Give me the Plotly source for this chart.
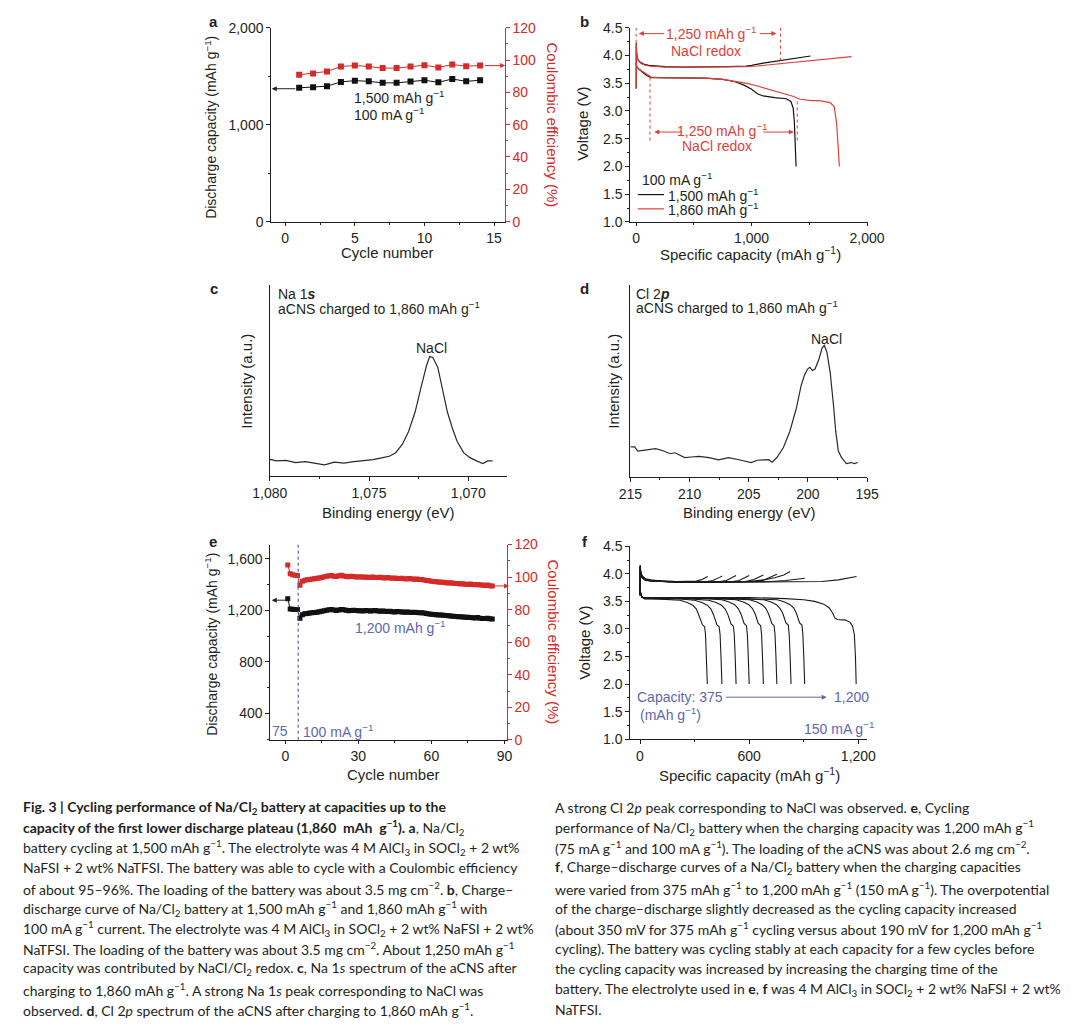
import plotly.graph_objects as go

# ---------------- data ----------------
# panel a
a_cycles = list(range(1, 15))
a_capacity = [1380, 1386, 1397, 1441, 1454, 1447, 1431, 1431, 1444, 1458, 1437, 1471, 1447, 1458]
a_ce = [90.9, 91.7, 92.9, 96.0, 96.6, 96.0, 95.0, 95.0, 96.0, 96.8, 95.4, 97.2, 96.2, 96.6]

# panel b
b_chg_1500_cap = [0, 1, 4, 10, 20, 40, 70, 110, 160, 250, 400, 600, 800, 950, 1000, 1100, 1245, 1400, 1510]
b_chg_1500_v = [3.40, 4.23, 4.05, 3.96, 3.91, 3.87, 3.84, 3.82, 3.81, 3.80, 3.79, 3.79, 3.80, 3.81, 3.82, 3.86, 3.91, 3.95, 3.99]
b_dis_1500_cap = [0, 5, 20, 50, 90, 130, 200, 400, 600, 750, 850, 930, 1000, 1050, 1100, 1200, 1300, 1340, 1360, 1370, 1378, 1385]
b_dis_1500_v = [3.86, 3.80, 3.76, 3.71, 3.64, 3.60, 3.60, 3.60, 3.59, 3.57, 3.53, 3.47, 3.39, 3.31, 3.27, 3.24, 3.22, 3.17, 3.05, 2.80, 2.40, 2.00]
b_chg_1860_cap = [0, 1, 4, 10, 20, 40, 70, 110, 160, 250, 400, 600, 800, 950, 1050, 1150, 1250, 1350, 1450, 1550, 1650, 1750, 1865]
b_chg_1860_v = [3.42, 4.21, 4.04, 3.95, 3.90, 3.86, 3.83, 3.81, 3.80, 3.79, 3.79, 3.79, 3.79, 3.80, 3.81, 3.83, 3.85, 3.87, 3.90, 3.92, 3.94, 3.96, 3.98]
b_dis_1860_cap = [0, 5, 20, 50, 90, 130, 200, 400, 600, 750, 850, 950, 1050, 1150, 1250, 1350, 1420, 1500, 1600, 1680, 1715, 1735, 1748, 1760]
b_dis_1860_v = [3.84, 3.79, 3.76, 3.72, 3.66, 3.61, 3.60, 3.60, 3.59, 3.57, 3.54, 3.50, 3.45, 3.39, 3.34, 3.27, 3.21, 3.19, 3.18, 3.15, 3.08, 2.80, 2.40, 2.00]
b_redox_marks = [0, 1250, 120, 1395]

# panel c (Na 1s)
c_be = [1080.0, 1079.67, 1079.19, 1078.70, 1078.21, 1077.72, 1077.24, 1076.75, 1076.26, 1075.77, 1075.28,
        1074.80, 1074.31, 1073.98, 1073.66, 1073.33, 1073.01, 1072.68, 1072.36, 1072.11, 1071.95, 1071.79,
        1071.54, 1071.30, 1071.06, 1070.81, 1070.57, 1070.24, 1069.92, 1069.59, 1069.27, 1069.02, 1068.78]
c_int = [0.089, 0.081, 0.084, 0.072, 0.077, 0.067, 0.060, 0.074, 0.069, 0.077, 0.081,
         0.088, 0.098, 0.105, 0.124, 0.167, 0.235, 0.338, 0.476, 0.579, 0.627, 0.622,
         0.570, 0.459, 0.338, 0.253, 0.184, 0.124, 0.098, 0.081, 0.067, 0.081, 0.081]

# panel d (Cl 2p)
d_be = [215.0, 214.64, 214.37, 213.83, 212.87, 212.19, 211.64, 211.23, 210.82, 210.41, 209.86, 209.18,
        208.36, 207.54, 206.72, 206.17, 205.63, 204.81, 204.26, 203.72, 203.31, 203.03, 202.62, 202.08,
        201.53, 200.98, 200.57, 200.30, 200.03, 199.84, 199.62, 199.40, 199.07, 198.80, 198.61, 198.39,
        198.12, 197.84, 197.65, 197.43, 197.16, 196.75, 196.34, 196.07, 195.79]
d_int = [0.159, 0.159, 0.137, 0.142, 0.149, 0.137, 0.123, 0.128, 0.115, 0.103, 0.106, 0.109,
         0.103, 0.091, 0.103, 0.094, 0.089, 0.077, 0.089, 0.091, 0.092, 0.079, 0.103, 0.154,
         0.239, 0.359, 0.479, 0.530, 0.564, 0.573, 0.556, 0.564, 0.615, 0.675, 0.687, 0.650,
         0.547, 0.376, 0.239, 0.137, 0.103, 0.072, 0.077, 0.072, 0.077]

# panel e
e_cycles = list(range(1, 86))
e_capacity = [1289, 1210, 1208, 1206, 1205, 1138, 1165, 1172, 1175, 1178, 1180, 1183, 1185, 1188, 1192,
              1196, 1199, 1203, 1205, 1202, 1198, 1201, 1206, 1203, 1199, 1196, 1198, 1200, 1197, 1195,
              1196, 1194, 1197, 1195, 1193, 1196, 1198, 1194, 1192, 1193, 1191, 1190, 1192, 1189, 1187,
              1190, 1188, 1186, 1185, 1187, 1184, 1183, 1185, 1182, 1180, 1181, 1178, 1174, 1170, 1168,
              1166, 1165, 1162, 1163, 1160, 1158, 1157, 1155, 1154, 1152, 1150, 1149, 1147, 1145, 1146,
              1143, 1142, 1140, 1143, 1138, 1136, 1135, 1137, 1133, 1131]
e_ce = [107.5, 102.0, 101.5, 101.2, 101.0, 95.0, 97.5, 98.0, 98.3, 98.6, 98.8, 99.0, 99.3, 99.5, 99.8,
        100.2, 100.5, 100.8, 101.0, 100.6, 100.3, 100.8, 101.2, 100.7, 100.4, 100.2, 100.5, 100.3, 100.1, 100.0,
        100.2, 99.9, 100.1, 99.8, 99.9, 100.1, 99.8, 99.7, 99.9, 99.6, 99.5, 99.7, 99.4, 99.3, 99.5,
        99.2, 99.1, 99.3, 99.0, 98.9, 99.1, 98.8, 98.7, 98.9, 98.6, 98.5, 98.2, 97.9, 97.7, 97.5,
        97.3, 97.2, 97.0, 96.8, 96.9, 96.6, 96.4, 96.5, 96.2, 96.1, 96.0, 95.8, 95.9, 95.6, 95.5,
        95.7, 95.4, 95.3, 95.5, 95.2, 95.1, 94.9, 95.1, 94.7, 94.6]
e_rate_switch_cycle = 5.3

# panel f: charge curves (375 -> 1,200 mAh/g)
f_charge_cap = [
    [0, 1, 4, 12, 30, 60, 120, 200, 280, 310, 335, 355, 372],
    [0, 1, 4, 12, 30, 60, 120, 200, 300, 370, 400, 425, 440, 451],
    [0, 1, 4, 12, 30, 60, 120, 250, 380, 440, 475, 505, 528],
    [0, 1, 4, 12, 30, 60, 120, 250, 400, 510, 545, 575, 600],
    [0, 1, 4, 12, 30, 60, 120, 250, 400, 580, 620, 652, 678],
    [0, 1, 4, 12, 30, 60, 120, 250, 400, 550, 650, 690, 725, 752],
    [0, 1, 4, 12, 30, 60, 120, 250, 400, 500, 600, 680, 740, 790, 825],
    [0, 1, 4, 12, 30, 60, 120, 250, 400, 600, 720, 800, 860, 905],
    [0, 1, 4, 12, 30, 60, 120, 250, 400, 600, 800, 900, 1000, 1090, 1150, 1190],
]
f_charge_v = [
    [3.62, 4.16, 4.03, 3.96, 3.91, 3.89, 3.87, 3.86, 3.86, 3.87, 3.89, 3.92, 3.95],
    [3.62, 4.15, 4.02, 3.95, 3.90, 3.88, 3.87, 3.86, 3.86, 3.86, 3.88, 3.91, 3.94, 3.96],
    [3.62, 4.14, 4.02, 3.95, 3.90, 3.88, 3.86, 3.85, 3.85, 3.86, 3.88, 3.93, 3.97],
    [3.62, 4.13, 4.01, 3.95, 3.90, 3.88, 3.86, 3.85, 3.85, 3.86, 3.88, 3.93, 3.97],
    [3.62, 4.13, 4.01, 3.94, 3.90, 3.88, 3.86, 3.85, 3.85, 3.86, 3.89, 3.94, 3.98],
    [3.61, 4.12, 4.00, 3.94, 3.90, 3.88, 3.86, 3.85, 3.85, 3.85, 3.86, 3.90, 3.95, 3.99],
    [3.61, 4.12, 4.00, 3.94, 3.89, 3.87, 3.86, 3.85, 3.85, 3.85, 3.86, 3.89, 3.93, 3.98, 4.04],
    [3.61, 4.11, 3.99, 3.93, 3.89, 3.87, 3.86, 3.85, 3.85, 3.85, 3.86, 3.88, 3.90, 3.92],
    [3.60, 4.10, 3.98, 3.92, 3.88, 3.87, 3.86, 3.85, 3.85, 3.85, 3.85, 3.855, 3.86, 3.89, 3.93, 3.95],
]
# panel f: discharge curves
f_discharge_cap = [
    [0, 3, 10, 25, 60, 150, 220, 260, 290, 310, 325, 335, 342, 355, 360, 365, 370],
    [0, 3, 10, 25, 60, 200, 300, 340, 370, 390, 405, 415, 422, 435, 440, 445, 450],
    [0, 3, 10, 25, 60, 250, 378, 418, 448, 468, 483, 493, 500, 513, 518, 523, 528],
    [0, 3, 10, 25, 60, 300, 450, 490, 520, 540, 555, 565, 572, 585, 590, 595, 600],
    [0, 3, 10, 25, 60, 350, 528, 568, 598, 618, 633, 643, 650, 663, 668, 673, 678],
    [0, 3, 10, 25, 60, 400, 602, 642, 672, 692, 707, 717, 724, 737, 742, 747, 752],
    [0, 3, 10, 25, 60, 450, 680, 720, 750, 770, 785, 795, 802, 815, 820, 825, 830],
    [0, 3, 10, 25, 60, 500, 755, 795, 825, 845, 860, 870, 877, 890, 895, 900, 905],
    [0, 3, 10, 25, 60, 300, 600, 800, 900, 960, 1010, 1040, 1060, 1070, 1085, 1130, 1155, 1168, 1178, 1184, 1188],
]
f_discharge_v = [
    [3.78, 3.66, 3.58, 3.55, 3.55, 3.54, 3.52, 3.48, 3.43, 3.36, 3.25, 3.15, 3.08, 3.04, 2.90, 2.50, 2.00],
    [3.77, 3.65, 3.58, 3.55, 3.55, 3.55, 3.52, 3.48, 3.43, 3.36, 3.25, 3.15, 3.08, 3.04, 2.90, 2.50, 2.00],
    [3.77, 3.65, 3.58, 3.55, 3.55, 3.55, 3.52, 3.48, 3.43, 3.36, 3.26, 3.16, 3.09, 3.05, 2.90, 2.50, 2.00],
    [3.77, 3.65, 3.58, 3.56, 3.56, 3.56, 3.53, 3.49, 3.44, 3.37, 3.27, 3.17, 3.10, 3.06, 2.90, 2.50, 2.00],
    [3.76, 3.65, 3.58, 3.56, 3.56, 3.56, 3.53, 3.49, 3.44, 3.37, 3.27, 3.17, 3.10, 3.06, 2.90, 2.50, 2.00],
    [3.76, 3.64, 3.58, 3.56, 3.56, 3.56, 3.53, 3.49, 3.44, 3.37, 3.27, 3.17, 3.10, 3.06, 2.90, 2.50, 2.00],
    [3.76, 3.64, 3.58, 3.56, 3.56, 3.56, 3.53, 3.49, 3.44, 3.37, 3.28, 3.18, 3.11, 3.07, 2.90, 2.50, 2.00],
    [3.76, 3.64, 3.58, 3.56, 3.56, 3.56, 3.53, 3.49, 3.44, 3.38, 3.28, 3.18, 3.11, 3.07, 2.90, 2.50, 2.00],
    [3.76, 3.64, 3.58, 3.56, 3.56, 3.57, 3.57, 3.55, 3.53, 3.50, 3.45, 3.38, 3.28, 3.20, 3.17, 3.16, 3.12, 3.05, 2.90, 2.50, 2.00],
]

caption_left = [
    "<b>Fig. 3 | Cycling performance of Na/Cl<sub>2</sub> battery at capacities up to the</b>",
    "<b>capacity of the first lower discharge plateau (1,860  mAh  g<sup>−1</sup>). a</b>, Na/Cl<sub>2</sub>",
    "battery cycling at 1,500 mAh g<sup>−1</sup>. The electrolyte was 4 M AlCl<sub>3</sub> in SOCl<sub>2</sub> + 2 wt%",
    "NaFSI + 2 wt% NaTFSI. The battery was able to cycle with a Coulombic efficiency",
    "of about 95–96%. The loading of the battery was about 3.5 mg cm<sup>−2</sup>. <b>b</b>, Charge–",
    "discharge curve of Na/Cl<sub>2</sub> battery at 1,500 mAh g<sup>−1</sup> and 1,860 mAh g<sup>−1</sup> with",
    "100 mA g<sup>−1</sup> current. The electrolyte was 4 M AlCl<sub>3</sub> in SOCl<sub>2</sub> + 2 wt% NaFSI + 2 wt%",
    "NaTFSI. The loading of the battery was about 3.5 mg cm<sup>−2</sup>. About 1,250 mAh g<sup>−1</sup>",
    "capacity was contributed by NaCl/Cl<sub>2</sub> redox. <b>c</b>, Na 1<i>s</i> spectrum of the aCNS after",
    "charging to 1,860 mAh g<sup>−1</sup>. A strong Na 1<i>s</i> peak corresponding to NaCl was",
    "observed. <b>d</b>, Cl 2<i>p</i> spectrum of the aCNS after charging to 1,860 mAh g<sup>−1</sup>.",
]
caption_right = [
    "A strong Cl 2<i>p</i> peak corresponding to NaCl was observed. <b>e</b>, Cycling",
    "performance of Na/Cl<sub>2</sub> battery when the charging capacity was 1,200 mAh g<sup>−1</sup>",
    "(75 mA g<sup>−1</sup> and 100 mA g<sup>−1</sup>). The loading of the aCNS was about 2.6 mg cm<sup>−2</sup>.",
    "<b>f</b>, Charge–discharge curves of a Na/Cl<sub>2</sub> battery when the charging capacities",
    "were varied from 375 mAh g<sup>−1</sup> to 1,200 mAh g<sup>−1</sup> (150 mA g<sup>−1</sup>). The overpotential",
    "of the charge–discharge slightly decreased as the cycling capacity increased",
    "(about 350 mV for 375 mAh g<sup>−1</sup> cycling versus about 190 mV for 1,200 mAh g<sup>−1</sup>",
    "cycling). The battery was cycling stably at each capacity for a few cycles before",
    "the cycling capacity was increased by increasing the charging time of the",
    "battery. The electrolyte used in <b>e</b>, <b>f</b> was 4 M AlCl<sub>3</sub> in SOCl<sub>2</sub> + 2 wt% NaFSI + 2 wt%",
    "NaTFSI.",
]

# ---------------- styling helpers ----------------
W, H = 1080, 1035


def fx(px):
    return px / W


def fy(py):
    return 1 - py / H


INK = '#231f20'
RED = '#d52a27'
RED_TXT = '#dc4139'
BLUE = '#6066b0'
FONT = 'Liberation Sans, Arial, sans-serif'
CAP_FONT = 'Lato, sans-serif'
FS = 14
FT = 15

fig = go.Figure()

# panel a
fig.add_trace(go.Scatter(x=a_cycles, y=a_capacity, mode='lines+markers', xaxis='x', yaxis='y',
                         line=dict(color='#111111', width=1),
                         marker=dict(symbol='square', size=6, color='#111111')))
fig.add_trace(go.Scatter(x=a_cycles, y=a_ce, mode='lines+markers', xaxis='x', yaxis='y7',
                         line=dict(color=RED, width=1),
                         marker=dict(symbol='square', size=6, color=RED)))
# panel b
fig.add_trace(go.Scatter(x=b_chg_1500_cap, y=b_chg_1500_v, mode='lines', xaxis='x2', yaxis='y2',
                         line=dict(color='#111111', width=1.2)))
fig.add_trace(go.Scatter(x=b_dis_1500_cap, y=b_dis_1500_v, mode='lines', xaxis='x2', yaxis='y2',
                         line=dict(color='#111111', width=1.2)))
fig.add_trace(go.Scatter(x=b_chg_1860_cap, y=b_chg_1860_v, mode='lines', xaxis='x2', yaxis='y2',
                         line=dict(color=RED_TXT, width=1.2)))
fig.add_trace(go.Scatter(x=b_dis_1860_cap, y=b_dis_1860_v, mode='lines', xaxis='x2', yaxis='y2',
                         line=dict(color=RED_TXT, width=1.2)))
# panel c, d
fig.add_trace(go.Scatter(x=c_be, y=c_int, mode='lines', xaxis='x3', yaxis='y3',
                         line=dict(color='#2a2a2a', width=1.2)))
fig.add_trace(go.Scatter(x=d_be, y=d_int, mode='lines', xaxis='x4', yaxis='y4',
                         line=dict(color='#2a2a2a', width=1.2)))
# panel e
fig.add_trace(go.Scatter(x=e_cycles, y=e_capacity, mode='lines+markers', xaxis='x5', yaxis='y5',
                         line=dict(color='#111111', width=1),
                         marker=dict(symbol='square', size=5, color='#111111')))
fig.add_trace(go.Scatter(x=e_cycles, y=e_ce, mode='lines+markers', xaxis='x5', yaxis='y8',
                         line=dict(color=RED, width=1),
                         marker=dict(symbol='square', size=5, color=RED)))
# panel f
for cx, cv in zip(f_charge_cap, f_charge_v):
    fig.add_trace(go.Scatter(x=cx, y=cv, mode='lines', xaxis='x6', yaxis='y6',
                             line=dict(color='#1a1a1a', width=1.1)))
for cx, cv in zip(f_discharge_cap, f_discharge_v):
    fig.add_trace(go.Scatter(x=cx, y=cv, mode='lines', xaxis='x6', yaxis='y6',
                             line=dict(color='#1a1a1a', width=1.1)))


def ax(color=INK, minor=None, **kw):
    d = dict(showline=True, linecolor=color, linewidth=1, ticks='outside', ticklen=3.5, tickwidth=1,
             tickcolor=color, showgrid=False, zeroline=False, fixedrange=True,
             tickfont=dict(family=FONT, size=FS, color=color))
    if minor is not None:
        d['minor'] = dict(dtick=minor, ticks='outside', ticklen=2, tickcolor=color, showgrid=False)
    d.update(kw)
    return d


layout = dict(
    width=W, height=H, autosize=False, showlegend=False,
    margin=dict(l=0, r=0, t=0, b=0),
    paper_bgcolor='white', plot_bgcolor='rgba(0,0,0,0)',
    # a
    xaxis=ax(domain=[fx(261), fx(503)], range=[-1.04, 15.8], dtick=5, tick0=0, minor=2.5, anchor='y'),
    yaxis=ax(domain=[fy(217), fy(20)], range=[0, 2000], dtick=1000, tickformat=',d', minor=500, anchor='x'),
    yaxis7=ax(color=RED, overlaying='y', side='right', anchor='x', range=[0, 120], dtick=20, minor=10),
    # b
    xaxis2=ax(domain=[fx(631.7), fx(878)], range=[-55, 2011], dtick=1000, tick0=0, tickformat=',d',
              minor=500, anchor='y2'),
    yaxis2=ax(domain=[fy(217.3), fy(20)], range=[1, 4.5], dtick=0.5, tick0=0, tickformat='.1f',
              minor=0.25, anchor='x2'),
    # c
    xaxis3=ax(domain=[fx(260), fx(505)], range=[1080, 1068.05], dtick=5, tick0=0, tickformat=',d',
              minor=2.5, anchor='y3'),
    yaxis3=ax(domain=[fy(475.7), fy(281.7)], range=[0, 1], ticks='', showticklabels=False, anchor='x3'),
    # d
    xaxis4=ax(domain=[fx(632.3), fx(876.7)], range=[215, 195], dtick=5, tick0=0, minor=2.5, anchor='y4'),
    yaxis4=ax(domain=[fy(476.7), fy(281.7)], range=[0, 1], ticks='', showticklabels=False, anchor='x4'),
    # e
    xaxis5=ax(domain=[fx(260), fx(505)], range=[-6.37, 91.1], dtick=30, tick0=0, minor=15, anchor='y5'),
    yaxis5=ax(domain=[fy(743.3), fy(545)], range=[195, 1709], dtick=400, tick0=0, tickformat=',d',
              minor=200, anchor='x5'),
    yaxis8=ax(color=RED, overlaying='y5', side='right', anchor='x5', range=[0, 120], dtick=20, minor=10),
    # f
    xaxis6=ax(domain=[fx(631.7), fx(876.7)], range=[-56, 1248], dtick=600, tick0=0, tickformat=',d',
              minor=300, anchor='y6'),
    yaxis6=ax(domain=[fy(742.7), fy(546.7)], range=[1, 4.5], dtick=0.5, tick0=0, tickformat='.1f',
              minor=0.25, anchor='x6'),
)
fig.update_layout(**layout)

ann = []


def text(px, py, s, size=FS, color=INK, xanchor='center', angle=0, family=FONT, yanchor='middle'):
    ann.append(dict(x=fx(px), y=fy(py), xref='paper', yref='paper', text=s, showarrow=False,
                    xanchor=xanchor, yanchor=yanchor, textangle=angle,
                    font=dict(family=family, size=size, color=color)))


def arrow(hx, hy, tx, ty, color=INK, width=1):
    ann.append(dict(x=fx(hx), y=fy(hy), xref='paper', yref='paper', text='', showarrow=True,
                    ax=tx - hx, ay=ty - hy, arrowhead=2, arrowsize=1, arrowwidth=width,
                    arrowcolor=color, standoff=0, startstandoff=0))


SUP = '<sup>−1</sup>'
# panel letters
for lab, px, py in [('a', 202, 14), ('b', 585, 14), ('c', 202, 285), ('d', 585, 285),
                    ('e', 201, 542), ('f', 585, 542)]:
    text(px, py, '<b>' + lab + '</b>', size=15)

# axis titles
text(199, 121, 'Discharge capacity (mAh g' + SUP + ')', size=FS, angle=-90)
text(552, 119, 'Coulombic efficiency (%)', size=FT, angle=90, color=RED)
text(382, 248, 'Cycle number', size=FT)
text(583, 118, 'Voltage (V)', size=FT, angle=-90)
text(756, 249, 'Specific capacity (mAh g' + SUP + ')', size=FT)
text(236, 379, 'Intensity (a.u.)', size=FT, angle=-90)
text(383, 512, 'Binding energy (eV)', size=FT)
text(615, 379, 'Intensity (a.u.)', size=FT, angle=-90)
text(755, 512, 'Binding energy (eV)', size=FT)
text(199, 646, 'Discharge capacity (mAh g' + SUP + ')', size=FS, angle=-90)
text(553, 644, 'Coulombic efficiency (%)', size=FT, angle=90, color=RED)
text(388, 779, 'Cycle number', size=FT)
text(584, 645, 'Voltage (V)', size=FT, angle=-90)
text(755, 779, 'Specific capacity (mAh g' + SUP + ')', size=FT)

# panel a notes
text(345, 90, '1,500 mAh g' + SUP, xanchor='left')
text(345, 108, '100 mA g' + SUP, xanchor='left')
arrow(262, 82, 287, 82)
arrow(503, 58.5, 481, 58.5, color=RED)

# panel b notes
text(716, 25, '1,250 mAh g' + SUP, color=RED_TXT)
text(710, 43.5, 'NaCl redox', color=RED_TXT)
arrow(641, 26, 668, 26, color=RED_TXT)
arrow(783, 26, 765, 26, color=RED_TXT)
text(727, 124, '1,250 mAh g' + SUP, color=RED_TXT)
text(722, 140, 'NaCl redox', color=RED_TXT)
arrow(657, 126, 686, 126, color=RED_TXT)
arrow(801, 126, 769, 126, color=RED_TXT)
text(642, 173.5, '100 mA g' + SUP, xanchor='left')
text(669, 189.5, '1,500 mAh g' + SUP, xanchor='left')
text(669, 204, '1,860 mAh g' + SUP, xanchor='left')

# panel c / d notes
text(266, 290, 'Na 1<b><i>s</i></b>', xanchor='left')
text(266, 305, 'aCNS charged to 1,860 mAh g' + SUP, xanchor='left')
text(427, 345, 'NaCl')
text(636, 290, 'Cl 2<b><i>p</i></b>', xanchor='left')
text(636, 304, 'aCNS charged to 1,860 mAh g' + SUP, xanchor='left')
text(835, 336, 'NaCl')

# panel e notes
text(395, 629, '1,200 mAh g' + SUP, color=BLUE)
text(271, 734, '75', color=BLUE)
text(292, 734, '100 mA g' + SUP, color=BLUE, xanchor='left')
arrow(262, 601.5, 281, 601.5)
arrow(507, 587, 490, 587, color=RED)

# panel f notes
text(637, 700, 'Capacity: 375', color=BLUE, xanchor='left')
text(640, 717, '(mAh g' + SUP + ')', color=BLUE, xanchor='left')
arrow(835, 700, 733, 700, color=BLUE)
text(840, 700, '1,200', color=BLUE, xanchor='left')
text(886, 731, '150 mA g' + SUP, color=BLUE, xanchor='right')

# caption
for i, line in enumerate(caption_left):
    text(3, 812 + 20.5 * i, line, size=14, family=CAP_FONT, xanchor='left')
for i, line in enumerate(caption_right):
    text(552, 812 + 20.5 * i, line, size=14, family=CAP_FONT, xanchor='left')

shapes = []
# panel b dotted redox markers
for xv, y0, y1 in zip(b_redox_marks, [4.5, 4.5, 3.6, 3.17], [3.95, 3.9, 2.42, 2.45]):
    shapes.append(dict(type='line', xref='x2', yref='y2', x0=xv, x1=xv, y0=y0, y1=y1,
                       line=dict(color=RED_TXT, width=1, dash='dot')))
# panel b legend samples
shapes.append(dict(type='line', xref='paper', yref='paper', x0=fx(640), x1=fx(667), y0=fy(189.5), y1=fy(189.5),
                   line=dict(color='#111111', width=1.2)))
shapes.append(dict(type='line', xref='paper', yref='paper', x0=fx(640), x1=fx(667), y0=fy(204), y1=fy(204),
                   line=dict(color=RED_TXT, width=1.2)))
# panel e rate switch
shapes.append(dict(type='line', xref='x5', yref='y5 domain', x0=e_rate_switch_cycle, x1=e_rate_switch_cycle,
                   y0=0, y1=1, line=dict(color=BLUE, width=1.2, dash='dot')))

fig.update_layout(annotations=ann, shapes=shapes)
fig.write_html("out.html", config={'displayModeBar': False},
               post_script="document.body.style.margin='0';document.body.style.overflow='hidden';")
